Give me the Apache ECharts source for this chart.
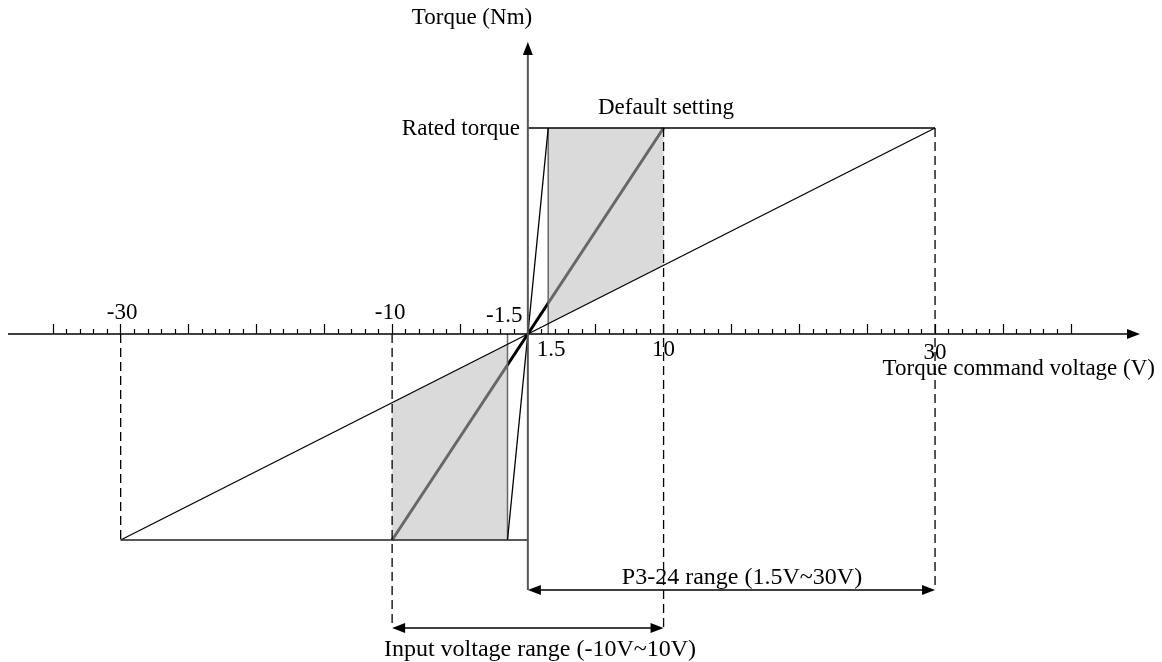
<!DOCTYPE html>
<html><head><meta charset="utf-8">
<script src="https://cdn.jsdelivr.net/npm/echarts@6/dist/echarts.min.js"></script>
<style>html,body{margin:0;padding:0;background:#fff}#c{width:1162px;height:662px}</style>
</head><body><div id="c"></div>
<script>
// ---------------- data ----------------
const ratedTorque = 1;
const xTickValues = [-30, -10, -1.5, 1.5, 10, 30];
const xTickLabels = ['-30', '-10', '-1.5', '1.5', '10', '30'];
const defaultGain = [[-10, -1], [10, 1]];      // default setting (10V -> rated)
const minGain = [[-30, -1], [30, 1]];          // P3-24 = 30V
const maxGain = [[-1.5, -1], [1.5, 1]];        // P3-24 = 1.5V
const posLimit = [[0, 1], [30, 1]];
const negLimit = [[-30, -1], [0, -1]];
const posShade = [[1.5, 0.05], [1.5, 1], [10, 1], [10, 0.3333]];
const negShade = [[-1.5, -0.05], [-1.5, -1], [-10, -1], [-10, -0.3333]];
const tickMin = -35, tickMax = 40, tickMajor = 5, tickMinorSplit = 5;

// ---------------- layout ----------------
const X_MIN = -38.3, X_MAX = 45.1;
const ORIGIN_PX = 334, UNIT_PX = 206, H = 662;
const Y_MAX = ORIGIN_PX / UNIT_PX, Y_MIN = -(H - ORIGIN_PX) / UNIT_PX;
const GRID_LEFT = 8, GRID_W = 1132;
const pxPerV = GRID_W / (X_MAX - X_MIN);
const yTop = (ORIGIN_PX - 42) / UNIT_PX;
const p3Y = (ORIGIN_PX - 590) / UNIT_PX;
const inY = (ORIGIN_PX - 628) / UNIT_PX;
const FONT = '23px "Liberation Serif", "Times New Roman", serif';
const FONT_L = '24px "Liberation Serif", "Times New Roman", serif';
const tickLabelOffsets = [[1.5, -21, 'center'], [-2, -21, 'center'], [15, -18, 'right'], [3, 16, 'center'], [0, 16, 'center'], [0, 19, 'center']];

// arrows: [x1,y1,x2,y2], heads, color, width
const arrows = [
  { p: [X_MIN, 0, X_MAX, 0], s: false, e: true, c: '#000', w: 1.5 },
  { p: [0, p3Y, 0, yTop], s: false, e: true, c: '#555', w: 2 },
  { p: [0, p3Y, 30, p3Y], s: true, e: true, c: '#000', w: 1.5 },
  { p: [-10, inY, 10, inY], s: true, e: true, c: '#000', w: 1.5 }
];
const dashedGuides = [
  [[-30, 0], [-30, -ratedTorque]],
  [[-10, 0], [-10, inY]],
  [[10, ratedTorque], [10, inY]],
  [[30, ratedTorque], [30, p3Y]]
];
const grayEdges = [
  [[1.5, 0], [1.5, ratedTorque]],
  [[-1.5, 0], [-1.5, -ratedTorque]]
];

function lineSeries(data, color, width, z, type) {
  return { type: 'line', data: data, xAxisIndex: 0, yAxisIndex: 0, symbol: 'none', silent: true, z: z,
    lineStyle: { color: color, width: width, type: type || 'solid', cap: 'butt' }, animation: false };
}

const series = [];
series.push(lineSeries(defaultGain, '#000', 3, 2));
series.push({
  type: 'custom', coordinateSystem: 'cartesian2d', xAxisIndex: 0, yAxisIndex: 0, z: 3, silent: true, animation: false,
  data: [[0, 0], [0, 0]],
  renderItem: function (params, api) {
    const poly = [posShade, negShade][params.dataIndex];
    return { type: 'polygon', shape: { points: poly.map(p => api.coord(p)) }, style: { fill: 'rgba(188,188,188,0.55)' } };
  }
});
grayEdges.forEach(g => series.push(lineSeries(g, '#666', 1.5, 4)));
dashedGuides.forEach(g => series.push(lineSeries(g, '#000', 1.3, 4, [9, 5])));
series.push(lineSeries(minGain, '#000', 1.3, 5));
series.push(lineSeries(maxGain, '#000', 1.3, 5));
series.push(lineSeries(posLimit, '#000', 1.5, 5));
series.push(lineSeries(negLimit, '#222', 1.5, 5));
series.push({
  type: 'custom', coordinateSystem: 'cartesian2d', xAxisIndex: 0, yAxisIndex: 0, z: 6, silent: true, animation: false,
  data: arrows.map(a => a.p),
  renderItem: function (params, api) {
    const a = arrows[params.dataIndex];
    let p1 = api.coord([api.value(0), api.value(1)]);
    let p2 = api.coord([api.value(2), api.value(3)]);
    const dx = p2[0] - p1[0], dy = p2[1] - p1[1], len = Math.hypot(dx, dy);
    const ux = dx / len, uy = dy / len, nx = -uy, ny = ux;
    const L = 13, W = 5;
    const children = [];
    let s1 = p1.slice(), s2 = p2.slice();
    if (a.e) {
      s2 = [p2[0] - ux * (L - 2), p2[1] - uy * (L - 2)];
      children.push({ type: 'polygon', shape: { points: [p2, [p2[0] - ux * L + nx * W, p2[1] - uy * L + ny * W], [p2[0] - ux * L - nx * W, p2[1] - uy * L - ny * W]] }, style: { fill: '#000' } });
    }
    if (a.s) {
      s1 = [p1[0] + ux * (L - 2), p1[1] + uy * (L - 2)];
      children.push({ type: 'polygon', shape: { points: [p1, [p1[0] + ux * L + nx * W, p1[1] + uy * L + ny * W], [p1[0] + ux * L - nx * W, p1[1] + uy * L - ny * W]] }, style: { fill: '#000' } });
    }
    children.unshift({ type: 'line', shape: { x1: s1[0], y1: s1[1], x2: s2[0], y2: s2[1] }, style: { stroke: a.c, lineWidth: a.w } });
    return { type: 'group', children: children };
  }
});
series.push({
  type: 'custom', coordinateSystem: 'cartesian2d', xAxisIndex: 0, yAxisIndex: 0, z: 7, silent: true, animation: false,
  data: xTickValues.map(v => [v, 0]),
  renderItem: function (params, api) {
    const i = params.dataIndex;
    const p = api.coord([api.value(0), api.value(1)]);
    const o = tickLabelOffsets[i];
    return { type: 'text', x: p[0] + o[0], y: p[1] + o[1], style: { text: xTickLabels[i], font: FONT, fill: '#000', align: o[2], verticalAlign: 'middle' } };
  }
});
// dummy series to attach the tick axis grid
series.push({ type: 'line', data: [], xAxisIndex: 1, yAxisIndex: 1 });

function txt(text, x, y, align, font) {
  return { type: 'text', x: x, y: y, style: { text: text, font: font || FONT, fill: '#000', align: align || 'center', verticalAlign: 'middle' }, z: 10 };
}

const option = {
  backgroundColor: '#fff',
  animation: false,
  grid: [
    { left: GRID_LEFT, width: GRID_W, top: 0, height: H },
    { left: GRID_LEFT + (tickMin - X_MIN) * pxPerV, width: (tickMax - tickMin) * pxPerV, top: 0, height: ORIGIN_PX }
  ],
  xAxis: [
    { type: 'value', gridIndex: 0, min: X_MIN, max: X_MAX, show: false },
    { type: 'value', gridIndex: 1, min: tickMin, max: tickMax, interval: tickMajor, position: 'bottom',
      axisLine: { show: false }, axisLabel: { show: false }, splitLine: { show: false },
      axisTick: { show: true, inside: true, length: 10, lineStyle: { color: '#000', width: 1.2 } },
      minorTick: { show: true, splitNumber: tickMinorSplit, length: 5, lineStyle: { color: '#000', width: 1.2 } } }
  ],
  yAxis: [
    { type: 'value', gridIndex: 0, min: Y_MIN, max: Y_MAX, show: false },
    { type: 'value', gridIndex: 1, min: 0, max: 1, show: false }
  ],
  graphic: [
    txt('Torque (Nm)', 472, 18),
    txt('Rated torque', 520, 129, 'right'),
    txt('Default setting', 666, 108),
    txt('Torque command voltage (V)', 1155, 369, 'right'),
    txt('P3-24 range (1.5V~30V)', 742, 578, 'center', FONT_L),
    txt('Input voltage range (-10V~10V)', 540, 650, 'center', FONT_L)
  ],
  series: series
};
const chart = echarts.init(document.getElementById('c'), null, { renderer: 'canvas' });
chart.setOption(option);
</script></body></html>
